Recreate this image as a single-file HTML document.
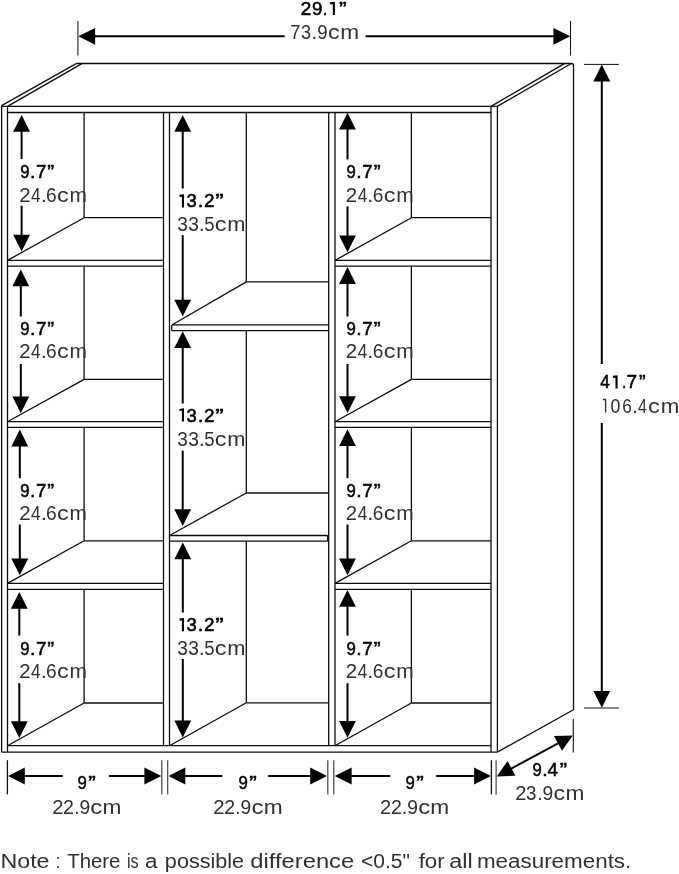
<!DOCTYPE html>
<html><head><meta charset="utf-8"><style>
html,body{margin:0;padding:0;background:#fff;}
svg{display:block;}
text{font-family:"Liberation Sans",sans-serif;fill:#303030;}
text.b{fill:#000;stroke:#000;stroke-width:0.55px;}
svg{will-change:transform;}
</style></head><body>
<svg width="679" height="874" viewBox="0 0 679 874">
<line x1="1.6" y1="105.6" x2="1.6" y2="752.1" stroke="#0d0d0d" stroke-width="1.3" stroke-linecap="butt"/>
<line x1="7.5" y1="106.2" x2="7.5" y2="752.1" stroke="#0d0d0d" stroke-width="1.3" stroke-linecap="butt"/>
<line x1="1.6" y1="106.4" x2="497.4" y2="106.4" stroke="#0d0d0d" stroke-width="1.3" stroke-linecap="butt"/>
<line x1="7.5" y1="112.5" x2="491.0" y2="112.5" stroke="#0d0d0d" stroke-width="1.3" stroke-linecap="butt"/>
<line x1="1.6" y1="752.1" x2="497.4" y2="752.1" stroke="#0d0d0d" stroke-width="1.3" stroke-linecap="butt"/>
<line x1="7.5" y1="745.7" x2="491.0" y2="745.7" stroke="#0d0d0d" stroke-width="1.3" stroke-linecap="butt"/>
<line x1="163.5" y1="112.5" x2="163.5" y2="745.7" stroke="#0d0d0d" stroke-width="1.3" stroke-linecap="butt"/>
<line x1="169.5" y1="112.5" x2="169.5" y2="745.7" stroke="#0d0d0d" stroke-width="1.3" stroke-linecap="butt"/>
<line x1="328.7" y1="112.5" x2="328.7" y2="745.7" stroke="#0d0d0d" stroke-width="1.3" stroke-linecap="butt"/>
<line x1="335.0" y1="112.5" x2="335.0" y2="745.7" stroke="#0d0d0d" stroke-width="1.3" stroke-linecap="butt"/>
<line x1="491.0" y1="106.4" x2="491.0" y2="752.1" stroke="#0d0d0d" stroke-width="1.3" stroke-linecap="butt"/>
<line x1="497.4" y1="106.4" x2="497.4" y2="752.1" stroke="#0d0d0d" stroke-width="1.3" stroke-linecap="butt"/>
<line x1="1.6" y1="105.6" x2="76.2" y2="63.6" stroke="#0d0d0d" stroke-width="1.3" stroke-linecap="butt"/>
<line x1="7.5" y1="106.4" x2="81.5" y2="63.9" stroke="#0d0d0d" stroke-width="1.3" stroke-linecap="butt"/>
<path d="M76.2,63.5 L571.5,63.5 Q573.5,63.5 573.5,65.5 L573.5,709.7" fill="none" stroke="#0d0d0d" stroke-width="1.3" stroke-linejoin="round"/>
<line x1="491.0" y1="106.4" x2="564.3" y2="63.6" stroke="#0d0d0d" stroke-width="1.3" stroke-linecap="butt"/>
<line x1="497.4" y1="106.4" x2="570.9" y2="63.8" stroke="#0d0d0d" stroke-width="1.3" stroke-linecap="butt"/>
<line x1="497.4" y1="752.1" x2="573.5" y2="709.7" stroke="#0d0d0d" stroke-width="1.3" stroke-linecap="butt"/>
<line x1="7.5" y1="260.4" x2="163.5" y2="260.4" stroke="#0d0d0d" stroke-width="1.3" stroke-linecap="butt"/>
<line x1="7.5" y1="266.2" x2="163.5" y2="266.2" stroke="#0d0d0d" stroke-width="1.3" stroke-linecap="butt"/>
<line x1="7.5" y1="421.7" x2="163.5" y2="421.7" stroke="#0d0d0d" stroke-width="1.3" stroke-linecap="butt"/>
<line x1="7.5" y1="427.4" x2="163.5" y2="427.4" stroke="#0d0d0d" stroke-width="1.3" stroke-linecap="butt"/>
<line x1="7.5" y1="583.4" x2="163.5" y2="583.4" stroke="#0d0d0d" stroke-width="1.3" stroke-linecap="butt"/>
<line x1="7.5" y1="589.3" x2="163.5" y2="589.3" stroke="#0d0d0d" stroke-width="1.3" stroke-linecap="butt"/>
<line x1="335.0" y1="260.4" x2="491.0" y2="260.4" stroke="#0d0d0d" stroke-width="1.3" stroke-linecap="butt"/>
<line x1="335.0" y1="266.2" x2="491.0" y2="266.2" stroke="#0d0d0d" stroke-width="1.3" stroke-linecap="butt"/>
<line x1="335.0" y1="421.7" x2="491.0" y2="421.7" stroke="#0d0d0d" stroke-width="1.3" stroke-linecap="butt"/>
<line x1="335.0" y1="427.4" x2="491.0" y2="427.4" stroke="#0d0d0d" stroke-width="1.3" stroke-linecap="butt"/>
<line x1="335.0" y1="583.4" x2="491.0" y2="583.4" stroke="#0d0d0d" stroke-width="1.3" stroke-linecap="butt"/>
<line x1="335.0" y1="589.3" x2="491.0" y2="589.3" stroke="#0d0d0d" stroke-width="1.3" stroke-linecap="butt"/>
<path d="M328.7,324.8 L172.7,324.8 Q171.7,324.8 171.7,325.8 L171.7,329.7 Q171.7,330.7 172.7,330.7 L328.7,330.7" fill="none" stroke="#0d0d0d" stroke-width="1.3" stroke-linejoin="round"/>
<path d="M169.5,535.5 L326.7,535.5 Q327.7,535.5 327.7,536.5 L327.7,540.2 Q327.7,541.2 326.7,541.2 L169.5,541.2" fill="none" stroke="#0d0d0d" stroke-width="1.3" stroke-linejoin="round"/>
<line x1="84.1" y1="112.5" x2="84.1" y2="217.7" stroke="#0d0d0d" stroke-width="1.3" stroke-linecap="butt"/>
<line x1="84.1" y1="217.7" x2="163.5" y2="217.7" stroke="#0d0d0d" stroke-width="1.3" stroke-linecap="butt"/>
<line x1="7.5" y1="260.4" x2="84.1" y2="217.7" stroke="#0d0d0d" stroke-width="1.3" stroke-linecap="butt"/>
<line x1="411.4" y1="112.5" x2="411.4" y2="217.7" stroke="#0d0d0d" stroke-width="1.3" stroke-linecap="butt"/>
<line x1="411.4" y1="217.7" x2="491.0" y2="217.7" stroke="#0d0d0d" stroke-width="1.3" stroke-linecap="butt"/>
<line x1="335.0" y1="260.4" x2="411.4" y2="217.7" stroke="#0d0d0d" stroke-width="1.3" stroke-linecap="butt"/>
<line x1="84.1" y1="266.2" x2="84.1" y2="379.4" stroke="#0d0d0d" stroke-width="1.3" stroke-linecap="butt"/>
<line x1="84.1" y1="379.4" x2="163.5" y2="379.4" stroke="#0d0d0d" stroke-width="1.3" stroke-linecap="butt"/>
<line x1="7.5" y1="421.7" x2="84.1" y2="379.4" stroke="#0d0d0d" stroke-width="1.3" stroke-linecap="butt"/>
<line x1="411.4" y1="266.2" x2="411.4" y2="379.4" stroke="#0d0d0d" stroke-width="1.3" stroke-linecap="butt"/>
<line x1="411.4" y1="379.4" x2="491.0" y2="379.4" stroke="#0d0d0d" stroke-width="1.3" stroke-linecap="butt"/>
<line x1="335.0" y1="421.7" x2="411.4" y2="379.4" stroke="#0d0d0d" stroke-width="1.3" stroke-linecap="butt"/>
<line x1="84.1" y1="427.4" x2="84.1" y2="540.8" stroke="#0d0d0d" stroke-width="1.3" stroke-linecap="butt"/>
<line x1="84.1" y1="540.8" x2="163.5" y2="540.8" stroke="#0d0d0d" stroke-width="1.3" stroke-linecap="butt"/>
<line x1="7.5" y1="583.4" x2="84.1" y2="540.8" stroke="#0d0d0d" stroke-width="1.3" stroke-linecap="butt"/>
<line x1="411.4" y1="427.4" x2="411.4" y2="540.8" stroke="#0d0d0d" stroke-width="1.3" stroke-linecap="butt"/>
<line x1="411.4" y1="540.8" x2="491.0" y2="540.8" stroke="#0d0d0d" stroke-width="1.3" stroke-linecap="butt"/>
<line x1="335.0" y1="583.4" x2="411.4" y2="540.8" stroke="#0d0d0d" stroke-width="1.3" stroke-linecap="butt"/>
<line x1="84.1" y1="589.3" x2="84.1" y2="703.0" stroke="#0d0d0d" stroke-width="1.3" stroke-linecap="butt"/>
<line x1="84.1" y1="703.0" x2="163.5" y2="703.0" stroke="#0d0d0d" stroke-width="1.3" stroke-linecap="butt"/>
<line x1="7.5" y1="745.7" x2="84.1" y2="703.0" stroke="#0d0d0d" stroke-width="1.3" stroke-linecap="butt"/>
<line x1="411.4" y1="589.3" x2="411.4" y2="703.0" stroke="#0d0d0d" stroke-width="1.3" stroke-linecap="butt"/>
<line x1="411.4" y1="703.0" x2="491.0" y2="703.0" stroke="#0d0d0d" stroke-width="1.3" stroke-linecap="butt"/>
<line x1="335.0" y1="745.7" x2="411.4" y2="703.0" stroke="#0d0d0d" stroke-width="1.3" stroke-linecap="butt"/>
<line x1="246.3" y1="112.5" x2="246.3" y2="281.9" stroke="#0d0d0d" stroke-width="1.3" stroke-linecap="butt"/>
<line x1="246.3" y1="281.9" x2="328.7" y2="281.9" stroke="#0d0d0d" stroke-width="1.3" stroke-linecap="butt"/>
<line x1="172.2" y1="324.8" x2="246.3" y2="281.9" stroke="#0d0d0d" stroke-width="1.3" stroke-linecap="butt"/>
<line x1="246.3" y1="330.7" x2="246.3" y2="493.0" stroke="#0d0d0d" stroke-width="1.3" stroke-linecap="butt"/>
<line x1="246.3" y1="493.0" x2="328.7" y2="493.0" stroke="#0d0d0d" stroke-width="1.3" stroke-linecap="butt"/>
<line x1="169.5" y1="535.5" x2="246.3" y2="493.0" stroke="#0d0d0d" stroke-width="1.3" stroke-linecap="butt"/>
<line x1="246.3" y1="541.2" x2="246.3" y2="702.8" stroke="#0d0d0d" stroke-width="1.3" stroke-linecap="butt"/>
<line x1="246.3" y1="702.8" x2="328.7" y2="702.8" stroke="#0d0d0d" stroke-width="1.3" stroke-linecap="butt"/>
<line x1="169.5" y1="745.7" x2="246.3" y2="702.8" stroke="#0d0d0d" stroke-width="1.3" stroke-linecap="butt"/>
<line x1="77.9" y1="21" x2="77.9" y2="55.5" stroke="#333" stroke-width="1.2" stroke-linecap="butt"/>
<line x1="570.5" y1="21" x2="570.5" y2="55.5" stroke="#111" stroke-width="1.0" stroke-linecap="butt"/>
<line x1="90" y1="36.3" x2="284.7" y2="36.3" stroke="#000" stroke-width="2.0" stroke-linecap="butt"/>
<line x1="365.7" y1="36.3" x2="558" y2="36.3" stroke="#000" stroke-width="2.0" stroke-linecap="butt"/>
<polygon points="78.30,36.30 95.10,27.90 95.10,44.70" fill="#000"/>
<polygon points="570.20,36.30 553.40,44.70 553.40,27.90" fill="#000"/>
<line x1="584.1" y1="64.4" x2="618.8" y2="64.4" stroke="#111" stroke-width="1.0" stroke-linecap="butt"/>
<line x1="584.1" y1="708" x2="618.8" y2="708" stroke="#111" stroke-width="1.0" stroke-linecap="butt"/>
<line x1="601.8" y1="76" x2="601.8" y2="364" stroke="#000" stroke-width="2.0" stroke-linecap="butt"/>
<line x1="601.8" y1="423" x2="601.8" y2="696" stroke="#000" stroke-width="2.0" stroke-linecap="butt"/>
<polygon points="601.80,64.60 610.20,81.40 593.40,81.40" fill="#000"/>
<polygon points="601.80,707.80 593.40,691.00 610.20,691.00" fill="#000"/>
<line x1="161.8" y1="760.2" x2="161.8" y2="794.4" stroke="#444" stroke-width="1.2" stroke-linecap="butt"/>
<line x1="167.7" y1="760.2" x2="167.7" y2="794.4" stroke="#444" stroke-width="1.2" stroke-linecap="butt"/>
<line x1="327.8" y1="760.2" x2="327.8" y2="794.4" stroke="#444" stroke-width="1.2" stroke-linecap="butt"/>
<line x1="333.8" y1="760.2" x2="333.8" y2="794.4" stroke="#444" stroke-width="1.2" stroke-linecap="butt"/>
<line x1="496.1" y1="760.2" x2="496.1" y2="794.4" stroke="#444" stroke-width="1.2" stroke-linecap="butt"/>
<line x1="7.4" y1="760.2" x2="7.4" y2="794.4" stroke="#111" stroke-width="1.3" stroke-linecap="butt"/>
<line x1="491.4" y1="760.2" x2="491.4" y2="794.4" stroke="#111" stroke-width="1.3" stroke-linecap="butt"/>
<line x1="20.0" y1="776.0" x2="62.6" y2="776.0" stroke="#000" stroke-width="2.0" stroke-linecap="butt"/>
<line x1="108.9" y1="776.0" x2="149.2" y2="776.0" stroke="#000" stroke-width="2.0" stroke-linecap="butt"/>
<polygon points="8.00,776.00 24.80,767.60 24.80,784.40" fill="#000"/>
<polygon points="161.20,776.00 144.40,784.40 144.40,767.60" fill="#000"/>
<line x1="180.5" y1="776.0" x2="222.4" y2="776.0" stroke="#000" stroke-width="2.0" stroke-linecap="butt"/>
<line x1="268.2" y1="776.0" x2="315.0" y2="776.0" stroke="#000" stroke-width="2.0" stroke-linecap="butt"/>
<polygon points="168.50,776.00 185.30,767.60 185.30,784.40" fill="#000"/>
<polygon points="327.00,776.00 310.20,784.40 310.20,767.60" fill="#000"/>
<line x1="346.8" y1="776.0" x2="390.3" y2="776.0" stroke="#000" stroke-width="2.0" stroke-linecap="butt"/>
<line x1="436.2" y1="776.0" x2="478.9" y2="776.0" stroke="#000" stroke-width="2.0" stroke-linecap="butt"/>
<polygon points="334.80,776.00 351.60,767.60 351.60,784.40" fill="#000"/>
<polygon points="490.90,776.00 474.10,784.40 474.10,767.60" fill="#000"/>
<line x1="573.3" y1="718.7" x2="573.3" y2="752.6" stroke="#111" stroke-width="1.1" stroke-linecap="butt"/>
<line x1="507.2643156359216" y1="770.7083187769673" x2="562.2356843640783" y2="741.0916812230327" stroke="#000" stroke-width="2.0" stroke-linecap="butt"/>
<polygon points="572.80,735.40 561.99,750.76 554.03,735.97" fill="#000"/>
<polygon points="496.70,776.40 507.51,761.04 515.47,775.83" fill="#000"/>
<line x1="21.6" y1="127.0" x2="21.6" y2="158.9" stroke="#000" stroke-width="2.0" stroke-linecap="butt"/>
<line x1="21.6" y1="205.7" x2="21.6" y2="239.5" stroke="#000" stroke-width="2.0" stroke-linecap="butt"/>
<polygon points="21.60,115.00 30.00,131.80 13.20,131.80" fill="#000"/>
<polygon points="21.60,251.50 13.20,234.70 30.00,234.70" fill="#000"/>
<line x1="20.8" y1="281.5" x2="20.8" y2="316.5" stroke="#000" stroke-width="2.0" stroke-linecap="butt"/>
<line x1="20.8" y1="364.0" x2="20.8" y2="401.2" stroke="#000" stroke-width="2.0" stroke-linecap="butt"/>
<polygon points="20.80,269.50 29.20,286.30 12.40,286.30" fill="#000"/>
<polygon points="20.80,413.20 12.40,396.40 29.20,396.40" fill="#000"/>
<line x1="19.8" y1="441.6" x2="19.8" y2="478.2" stroke="#000" stroke-width="2.0" stroke-linecap="butt"/>
<line x1="19.8" y1="524.5" x2="19.8" y2="563.3" stroke="#000" stroke-width="2.0" stroke-linecap="butt"/>
<polygon points="19.80,429.60 28.20,446.40 11.40,446.40" fill="#000"/>
<polygon points="19.80,575.30 11.40,558.50 28.20,558.50" fill="#000"/>
<line x1="19.3" y1="603.9" x2="19.3" y2="635.6" stroke="#000" stroke-width="2.0" stroke-linecap="butt"/>
<line x1="19.3" y1="683.2" x2="19.3" y2="726.0" stroke="#000" stroke-width="2.0" stroke-linecap="butt"/>
<polygon points="19.30,591.90 27.70,608.70 10.90,608.70" fill="#000"/>
<polygon points="19.30,738.00 10.90,721.20 27.70,721.20" fill="#000"/>
<line x1="182.7" y1="126.9" x2="182.7" y2="188.5" stroke="#000" stroke-width="2.0" stroke-linecap="butt"/>
<line x1="182.7" y1="235.1" x2="182.7" y2="304.6" stroke="#000" stroke-width="2.0" stroke-linecap="butt"/>
<polygon points="182.70,114.90 191.10,131.70 174.30,131.70" fill="#000"/>
<polygon points="182.70,316.60 174.30,299.80 191.10,299.80" fill="#000"/>
<line x1="182.7" y1="343.2" x2="182.7" y2="403.5" stroke="#000" stroke-width="2.0" stroke-linecap="butt"/>
<line x1="182.7" y1="450.7" x2="182.7" y2="514.0" stroke="#000" stroke-width="2.0" stroke-linecap="butt"/>
<polygon points="182.70,331.20 191.10,348.00 174.30,348.00" fill="#000"/>
<polygon points="182.70,526.00 174.30,509.20 191.10,509.20" fill="#000"/>
<line x1="182.8" y1="554.4" x2="182.8" y2="612.5" stroke="#000" stroke-width="2.0" stroke-linecap="butt"/>
<line x1="182.8" y1="659.0" x2="182.8" y2="725.4" stroke="#000" stroke-width="2.0" stroke-linecap="butt"/>
<polygon points="182.80,542.40 191.20,559.20 174.40,559.20" fill="#000"/>
<polygon points="182.80,737.40 174.40,720.60 191.20,720.60" fill="#000"/>
<line x1="347.5" y1="124.8" x2="347.5" y2="159.5" stroke="#000" stroke-width="2.0" stroke-linecap="butt"/>
<line x1="347.5" y1="206.4" x2="347.5" y2="240.2" stroke="#000" stroke-width="2.0" stroke-linecap="butt"/>
<polygon points="347.50,112.80 355.90,129.60 339.10,129.60" fill="#000"/>
<polygon points="347.50,252.20 339.10,235.40 355.90,235.40" fill="#000"/>
<line x1="347.5" y1="279.1" x2="347.5" y2="316.5" stroke="#000" stroke-width="2.0" stroke-linecap="butt"/>
<line x1="347.5" y1="364.0" x2="347.5" y2="401.0" stroke="#000" stroke-width="2.0" stroke-linecap="butt"/>
<polygon points="347.50,267.10 355.90,283.90 339.10,283.90" fill="#000"/>
<polygon points="347.50,413.00 339.10,396.20 355.90,396.20" fill="#000"/>
<line x1="347.5" y1="441.2" x2="347.5" y2="478.2" stroke="#000" stroke-width="2.0" stroke-linecap="butt"/>
<line x1="347.5" y1="524.5" x2="347.5" y2="563.3" stroke="#000" stroke-width="2.0" stroke-linecap="butt"/>
<polygon points="347.50,429.20 355.90,446.00 339.10,446.00" fill="#000"/>
<polygon points="347.50,575.30 339.10,558.50 355.90,558.50" fill="#000"/>
<line x1="347.5" y1="601.9" x2="347.5" y2="635.6" stroke="#000" stroke-width="2.0" stroke-linecap="butt"/>
<line x1="347.5" y1="683.2" x2="347.5" y2="725.7" stroke="#000" stroke-width="2.0" stroke-linecap="butt"/>
<polygon points="347.50,589.90 355.90,606.70 339.10,606.70" fill="#000"/>
<polygon points="347.50,737.70 339.10,720.90 355.90,720.90" fill="#000"/>
<text class="b" x="300.50" y="14.95" font-size="19" textLength="10.80" lengthAdjust="spacingAndGlyphs">2</text><text class="b" x="311.90" y="14.95" font-size="19" textLength="10.41" lengthAdjust="spacingAndGlyphs">9</text><text class="b" x="322.88" y="14.95" font-size="19" textLength="4.23" lengthAdjust="spacingAndGlyphs">.</text><path d="M330.10,3.40 L333.85,2.95 L333.85,14.95" fill="none" stroke="#000" stroke-width="2.1" stroke-linejoin="miter"/><text class="b" x="339.14" y="14.95" font-size="19" textLength="7.63" lengthAdjust="spacingAndGlyphs">”</text>
<text x="290.26" y="38.90" font-size="20" textLength="10.15" lengthAdjust="spacingAndGlyphs">7</text><text x="301.11" y="38.90" font-size="20" textLength="10.09" lengthAdjust="spacingAndGlyphs">3</text><text x="311.29" y="38.90" font-size="20" textLength="6.13" lengthAdjust="spacingAndGlyphs">.</text><text x="317.13" y="38.90" font-size="20" textLength="10.35" lengthAdjust="spacingAndGlyphs">9</text><text x="328.11" y="38.90" font-size="20" textLength="11.60" lengthAdjust="spacingAndGlyphs">c</text><text x="340.19" y="38.90" font-size="20" textLength="18.90" lengthAdjust="spacingAndGlyphs">m</text>
<text class="b" x="600.28" y="388.45" font-size="19" textLength="9.55" lengthAdjust="spacingAndGlyphs">4</text><path d="M612.90,376.90 L616.55,376.45 L616.55,388.45" fill="none" stroke="#000" stroke-width="2.1" stroke-linejoin="miter"/><text class="b" x="621.88" y="388.45" font-size="19" textLength="4.23" lengthAdjust="spacingAndGlyphs">.</text><text class="b" x="626.50" y="388.45" font-size="19" textLength="10.58" lengthAdjust="spacingAndGlyphs">7</text><text class="b" x="639.05" y="388.45" font-size="19" textLength="6.60" lengthAdjust="spacingAndGlyphs">”</text>
<path d="M602.90,399.48 L605.62,399.48 L605.62,412.60" fill="none" stroke="#303030" stroke-width="1.35" stroke-linejoin="miter"/><text x="610.51" y="412.60" font-size="20" textLength="9.89" lengthAdjust="spacingAndGlyphs">0</text><text x="622.13" y="412.60" font-size="20" textLength="9.52" lengthAdjust="spacingAndGlyphs">6</text><text x="632.18" y="412.60" font-size="20" textLength="5.54" lengthAdjust="spacingAndGlyphs">.</text><text x="637.93" y="412.60" font-size="20" textLength="8.94" lengthAdjust="spacingAndGlyphs">4</text><text x="648.00" y="412.60" font-size="20" textLength="11.83" lengthAdjust="spacingAndGlyphs">c</text><text x="660.72" y="412.60" font-size="20" textLength="18.55" lengthAdjust="spacingAndGlyphs">m</text>
<text class="b" x="532.50" y="775.65" font-size="19" textLength="9.21" lengthAdjust="spacingAndGlyphs">9</text><text class="b" x="542.30" y="775.65" font-size="19" textLength="5.40" lengthAdjust="spacingAndGlyphs">.</text><text class="b" x="547.54" y="775.65" font-size="19" textLength="10.43" lengthAdjust="spacingAndGlyphs">4</text><text class="b" x="559.78" y="775.65" font-size="19" textLength="7.24" lengthAdjust="spacingAndGlyphs">”</text>
<text x="515.18" y="799.80" font-size="20" textLength="11.23" lengthAdjust="spacingAndGlyphs">2</text><text x="526.09" y="799.80" font-size="20" textLength="10.44" lengthAdjust="spacingAndGlyphs">3</text><text x="537.17" y="799.80" font-size="20" textLength="5.25" lengthAdjust="spacingAndGlyphs">.</text><text x="542.40" y="799.80" font-size="20" textLength="10.72" lengthAdjust="spacingAndGlyphs">9</text><text x="553.41" y="799.80" font-size="20" textLength="11.60" lengthAdjust="spacingAndGlyphs">c</text><text x="565.49" y="799.80" font-size="20" textLength="18.90" lengthAdjust="spacingAndGlyphs">m</text>
<text class="b" x="77.49" y="789.45" font-size="19" textLength="9.33" lengthAdjust="spacingAndGlyphs">9</text><text class="b" x="88.35" y="789.45" font-size="19" textLength="7.50" lengthAdjust="spacingAndGlyphs">”</text>
<text class="b" x="238.49" y="789.45" font-size="19" textLength="9.33" lengthAdjust="spacingAndGlyphs">9</text><text class="b" x="249.35" y="789.45" font-size="19" textLength="7.50" lengthAdjust="spacingAndGlyphs">”</text>
<text class="b" x="405.39" y="789.45" font-size="19" textLength="9.33" lengthAdjust="spacingAndGlyphs">9</text><text class="b" x="416.25" y="789.45" font-size="19" textLength="7.50" lengthAdjust="spacingAndGlyphs">”</text>
<text x="52.18" y="813.60" font-size="20" textLength="11.23" lengthAdjust="spacingAndGlyphs">2</text><text x="63.12" y="813.60" font-size="20" textLength="10.87" lengthAdjust="spacingAndGlyphs">2</text><text x="74.17" y="813.60" font-size="20" textLength="5.25" lengthAdjust="spacingAndGlyphs">.</text><text x="79.40" y="813.60" font-size="20" textLength="10.72" lengthAdjust="spacingAndGlyphs">9</text><text x="90.39" y="813.60" font-size="20" textLength="11.94" lengthAdjust="spacingAndGlyphs">c</text><text x="102.49" y="813.60" font-size="20" textLength="18.90" lengthAdjust="spacingAndGlyphs">m</text>
<text x="213.38" y="813.60" font-size="20" textLength="11.23" lengthAdjust="spacingAndGlyphs">2</text><text x="224.32" y="813.60" font-size="20" textLength="10.87" lengthAdjust="spacingAndGlyphs">2</text><text x="235.37" y="813.60" font-size="20" textLength="5.25" lengthAdjust="spacingAndGlyphs">.</text><text x="240.60" y="813.60" font-size="20" textLength="10.72" lengthAdjust="spacingAndGlyphs">9</text><text x="251.59" y="813.60" font-size="20" textLength="11.94" lengthAdjust="spacingAndGlyphs">c</text><text x="263.69" y="813.60" font-size="20" textLength="18.90" lengthAdjust="spacingAndGlyphs">m</text>
<text x="380.08" y="813.60" font-size="20" textLength="11.23" lengthAdjust="spacingAndGlyphs">2</text><text x="391.02" y="813.60" font-size="20" textLength="10.87" lengthAdjust="spacingAndGlyphs">2</text><text x="402.07" y="813.60" font-size="20" textLength="5.25" lengthAdjust="spacingAndGlyphs">.</text><text x="407.30" y="813.60" font-size="20" textLength="10.72" lengthAdjust="spacingAndGlyphs">9</text><text x="418.29" y="813.60" font-size="20" textLength="11.94" lengthAdjust="spacingAndGlyphs">c</text><text x="430.39" y="813.60" font-size="20" textLength="18.90" lengthAdjust="spacingAndGlyphs">m</text>
<text class="b" x="20.14" y="178.45" font-size="19" textLength="9.27" lengthAdjust="spacingAndGlyphs">9</text><text class="b" x="29.90" y="178.45" font-size="19" textLength="5.40" lengthAdjust="spacingAndGlyphs">.</text><text class="b" x="35.91" y="178.45" font-size="19" textLength="10.46" lengthAdjust="spacingAndGlyphs">7</text><text class="b" x="47.22" y="178.45" font-size="19" textLength="6.86" lengthAdjust="spacingAndGlyphs">”</text>
<text x="19.17" y="202.00" font-size="20" textLength="11.35" lengthAdjust="spacingAndGlyphs">2</text><text x="31.00" y="202.00" font-size="20" textLength="9.60" lengthAdjust="spacingAndGlyphs">4</text><text x="40.69" y="202.00" font-size="20" textLength="6.13" lengthAdjust="spacingAndGlyphs">.</text><text x="45.93" y="202.00" font-size="20" textLength="10.61" lengthAdjust="spacingAndGlyphs">6</text><text x="57.10" y="202.00" font-size="20" textLength="11.71" lengthAdjust="spacingAndGlyphs">c</text><text x="69.61" y="202.00" font-size="20" textLength="17.48" lengthAdjust="spacingAndGlyphs">m</text>
<text class="b" x="346.59" y="178.45" font-size="19" textLength="9.27" lengthAdjust="spacingAndGlyphs">9</text><text class="b" x="356.35" y="178.45" font-size="19" textLength="5.40" lengthAdjust="spacingAndGlyphs">.</text><text class="b" x="362.36" y="178.45" font-size="19" textLength="10.46" lengthAdjust="spacingAndGlyphs">7</text><text class="b" x="373.67" y="178.45" font-size="19" textLength="6.86" lengthAdjust="spacingAndGlyphs">”</text>
<text x="345.87" y="202.00" font-size="20" textLength="11.35" lengthAdjust="spacingAndGlyphs">2</text><text x="357.70" y="202.00" font-size="20" textLength="9.60" lengthAdjust="spacingAndGlyphs">4</text><text x="367.39" y="202.00" font-size="20" textLength="6.13" lengthAdjust="spacingAndGlyphs">.</text><text x="372.63" y="202.00" font-size="20" textLength="10.61" lengthAdjust="spacingAndGlyphs">6</text><text x="383.80" y="202.00" font-size="20" textLength="11.71" lengthAdjust="spacingAndGlyphs">c</text><text x="396.31" y="202.00" font-size="20" textLength="17.48" lengthAdjust="spacingAndGlyphs">m</text>
<text class="b" x="20.14" y="334.65" font-size="19" textLength="9.27" lengthAdjust="spacingAndGlyphs">9</text><text class="b" x="29.90" y="334.65" font-size="19" textLength="5.40" lengthAdjust="spacingAndGlyphs">.</text><text class="b" x="35.91" y="334.65" font-size="19" textLength="10.46" lengthAdjust="spacingAndGlyphs">7</text><text class="b" x="47.22" y="334.65" font-size="19" textLength="6.86" lengthAdjust="spacingAndGlyphs">”</text>
<text x="19.17" y="358.20" font-size="20" textLength="11.35" lengthAdjust="spacingAndGlyphs">2</text><text x="31.00" y="358.20" font-size="20" textLength="9.60" lengthAdjust="spacingAndGlyphs">4</text><text x="40.69" y="358.20" font-size="20" textLength="6.13" lengthAdjust="spacingAndGlyphs">.</text><text x="45.93" y="358.20" font-size="20" textLength="10.61" lengthAdjust="spacingAndGlyphs">6</text><text x="57.10" y="358.20" font-size="20" textLength="11.71" lengthAdjust="spacingAndGlyphs">c</text><text x="69.61" y="358.20" font-size="20" textLength="17.48" lengthAdjust="spacingAndGlyphs">m</text>
<text class="b" x="346.59" y="334.65" font-size="19" textLength="9.27" lengthAdjust="spacingAndGlyphs">9</text><text class="b" x="356.35" y="334.65" font-size="19" textLength="5.40" lengthAdjust="spacingAndGlyphs">.</text><text class="b" x="362.36" y="334.65" font-size="19" textLength="10.46" lengthAdjust="spacingAndGlyphs">7</text><text class="b" x="373.67" y="334.65" font-size="19" textLength="6.86" lengthAdjust="spacingAndGlyphs">”</text>
<text x="345.87" y="358.20" font-size="20" textLength="11.35" lengthAdjust="spacingAndGlyphs">2</text><text x="357.70" y="358.20" font-size="20" textLength="9.60" lengthAdjust="spacingAndGlyphs">4</text><text x="367.39" y="358.20" font-size="20" textLength="6.13" lengthAdjust="spacingAndGlyphs">.</text><text x="372.63" y="358.20" font-size="20" textLength="10.61" lengthAdjust="spacingAndGlyphs">6</text><text x="383.80" y="358.20" font-size="20" textLength="11.71" lengthAdjust="spacingAndGlyphs">c</text><text x="396.31" y="358.20" font-size="20" textLength="17.48" lengthAdjust="spacingAndGlyphs">m</text>
<text class="b" x="20.14" y="496.55" font-size="19" textLength="9.27" lengthAdjust="spacingAndGlyphs">9</text><text class="b" x="29.90" y="496.55" font-size="19" textLength="5.40" lengthAdjust="spacingAndGlyphs">.</text><text class="b" x="35.91" y="496.55" font-size="19" textLength="10.46" lengthAdjust="spacingAndGlyphs">7</text><text class="b" x="47.22" y="496.55" font-size="19" textLength="6.86" lengthAdjust="spacingAndGlyphs">”</text>
<text x="19.17" y="520.10" font-size="20" textLength="11.35" lengthAdjust="spacingAndGlyphs">2</text><text x="31.00" y="520.10" font-size="20" textLength="9.60" lengthAdjust="spacingAndGlyphs">4</text><text x="40.69" y="520.10" font-size="20" textLength="6.13" lengthAdjust="spacingAndGlyphs">.</text><text x="45.93" y="520.10" font-size="20" textLength="10.61" lengthAdjust="spacingAndGlyphs">6</text><text x="57.10" y="520.10" font-size="20" textLength="11.71" lengthAdjust="spacingAndGlyphs">c</text><text x="69.61" y="520.10" font-size="20" textLength="17.48" lengthAdjust="spacingAndGlyphs">m</text>
<text class="b" x="346.59" y="496.55" font-size="19" textLength="9.27" lengthAdjust="spacingAndGlyphs">9</text><text class="b" x="356.35" y="496.55" font-size="19" textLength="5.40" lengthAdjust="spacingAndGlyphs">.</text><text class="b" x="362.36" y="496.55" font-size="19" textLength="10.46" lengthAdjust="spacingAndGlyphs">7</text><text class="b" x="373.67" y="496.55" font-size="19" textLength="6.86" lengthAdjust="spacingAndGlyphs">”</text>
<text x="345.87" y="520.10" font-size="20" textLength="11.35" lengthAdjust="spacingAndGlyphs">2</text><text x="357.70" y="520.10" font-size="20" textLength="9.60" lengthAdjust="spacingAndGlyphs">4</text><text x="367.39" y="520.10" font-size="20" textLength="6.13" lengthAdjust="spacingAndGlyphs">.</text><text x="372.63" y="520.10" font-size="20" textLength="10.61" lengthAdjust="spacingAndGlyphs">6</text><text x="383.80" y="520.10" font-size="20" textLength="11.71" lengthAdjust="spacingAndGlyphs">c</text><text x="396.31" y="520.10" font-size="20" textLength="17.48" lengthAdjust="spacingAndGlyphs">m</text>
<text class="b" x="20.14" y="654.65" font-size="19" textLength="9.27" lengthAdjust="spacingAndGlyphs">9</text><text class="b" x="29.90" y="654.65" font-size="19" textLength="5.40" lengthAdjust="spacingAndGlyphs">.</text><text class="b" x="35.91" y="654.65" font-size="19" textLength="10.46" lengthAdjust="spacingAndGlyphs">7</text><text class="b" x="47.22" y="654.65" font-size="19" textLength="6.86" lengthAdjust="spacingAndGlyphs">”</text>
<text x="19.17" y="678.20" font-size="20" textLength="11.35" lengthAdjust="spacingAndGlyphs">2</text><text x="31.00" y="678.20" font-size="20" textLength="9.60" lengthAdjust="spacingAndGlyphs">4</text><text x="40.69" y="678.20" font-size="20" textLength="6.13" lengthAdjust="spacingAndGlyphs">.</text><text x="45.93" y="678.20" font-size="20" textLength="10.61" lengthAdjust="spacingAndGlyphs">6</text><text x="57.10" y="678.20" font-size="20" textLength="11.71" lengthAdjust="spacingAndGlyphs">c</text><text x="69.61" y="678.20" font-size="20" textLength="17.48" lengthAdjust="spacingAndGlyphs">m</text>
<text class="b" x="346.59" y="654.65" font-size="19" textLength="9.27" lengthAdjust="spacingAndGlyphs">9</text><text class="b" x="356.35" y="654.65" font-size="19" textLength="5.40" lengthAdjust="spacingAndGlyphs">.</text><text class="b" x="362.36" y="654.65" font-size="19" textLength="10.46" lengthAdjust="spacingAndGlyphs">7</text><text class="b" x="373.67" y="654.65" font-size="19" textLength="6.86" lengthAdjust="spacingAndGlyphs">”</text>
<text x="345.87" y="678.20" font-size="20" textLength="11.35" lengthAdjust="spacingAndGlyphs">2</text><text x="357.70" y="678.20" font-size="20" textLength="9.60" lengthAdjust="spacingAndGlyphs">4</text><text x="367.39" y="678.20" font-size="20" textLength="6.13" lengthAdjust="spacingAndGlyphs">.</text><text x="372.63" y="678.20" font-size="20" textLength="10.61" lengthAdjust="spacingAndGlyphs">6</text><text x="383.80" y="678.20" font-size="20" textLength="11.71" lengthAdjust="spacingAndGlyphs">c</text><text x="396.31" y="678.20" font-size="20" textLength="17.48" lengthAdjust="spacingAndGlyphs">m</text>
<path d="M179.50,195.90 L182.95,195.45 L182.95,207.45" fill="none" stroke="#000" stroke-width="2.1" stroke-linejoin="miter"/><text class="b" x="186.57" y="207.45" font-size="19" textLength="10.26" lengthAdjust="spacingAndGlyphs">3</text><text class="b" x="197.81" y="207.45" font-size="19" textLength="5.69" lengthAdjust="spacingAndGlyphs">.</text><text class="b" x="204.02" y="207.45" font-size="19" textLength="10.56" lengthAdjust="spacingAndGlyphs">2</text><text class="b" x="215.17" y="207.45" font-size="19" textLength="8.27" lengthAdjust="spacingAndGlyphs">”</text>
<text x="177.18" y="231.30" font-size="20" textLength="10.56" lengthAdjust="spacingAndGlyphs">3</text><text x="188.17" y="231.30" font-size="20" textLength="10.67" lengthAdjust="spacingAndGlyphs">3</text><text x="198.69" y="231.30" font-size="20" textLength="6.13" lengthAdjust="spacingAndGlyphs">.</text><text x="204.36" y="231.30" font-size="20" textLength="10.32" lengthAdjust="spacingAndGlyphs">5</text><text x="214.80" y="231.30" font-size="20" textLength="11.71" lengthAdjust="spacingAndGlyphs">c</text><text x="227.35" y="231.30" font-size="20" textLength="18.19" lengthAdjust="spacingAndGlyphs">m</text>
<path d="M179.50,410.00 L182.95,409.55 L182.95,421.55" fill="none" stroke="#000" stroke-width="2.1" stroke-linejoin="miter"/><text class="b" x="186.57" y="421.55" font-size="19" textLength="10.26" lengthAdjust="spacingAndGlyphs">3</text><text class="b" x="197.81" y="421.55" font-size="19" textLength="5.69" lengthAdjust="spacingAndGlyphs">.</text><text class="b" x="204.02" y="421.55" font-size="19" textLength="10.56" lengthAdjust="spacingAndGlyphs">2</text><text class="b" x="215.17" y="421.55" font-size="19" textLength="8.27" lengthAdjust="spacingAndGlyphs">”</text>
<text x="177.18" y="445.70" font-size="20" textLength="10.56" lengthAdjust="spacingAndGlyphs">3</text><text x="188.17" y="445.70" font-size="20" textLength="10.67" lengthAdjust="spacingAndGlyphs">3</text><text x="198.69" y="445.70" font-size="20" textLength="6.13" lengthAdjust="spacingAndGlyphs">.</text><text x="204.36" y="445.70" font-size="20" textLength="10.32" lengthAdjust="spacingAndGlyphs">5</text><text x="214.80" y="445.70" font-size="20" textLength="11.71" lengthAdjust="spacingAndGlyphs">c</text><text x="227.35" y="445.70" font-size="20" textLength="18.19" lengthAdjust="spacingAndGlyphs">m</text>
<path d="M179.50,619.60 L182.95,619.15 L182.95,631.15" fill="none" stroke="#000" stroke-width="2.1" stroke-linejoin="miter"/><text class="b" x="186.57" y="631.15" font-size="19" textLength="10.26" lengthAdjust="spacingAndGlyphs">3</text><text class="b" x="197.81" y="631.15" font-size="19" textLength="5.69" lengthAdjust="spacingAndGlyphs">.</text><text class="b" x="204.02" y="631.15" font-size="19" textLength="10.56" lengthAdjust="spacingAndGlyphs">2</text><text class="b" x="215.17" y="631.15" font-size="19" textLength="8.27" lengthAdjust="spacingAndGlyphs">”</text>
<text x="177.18" y="655.10" font-size="20" textLength="10.56" lengthAdjust="spacingAndGlyphs">3</text><text x="188.17" y="655.10" font-size="20" textLength="10.67" lengthAdjust="spacingAndGlyphs">3</text><text x="198.69" y="655.10" font-size="20" textLength="6.13" lengthAdjust="spacingAndGlyphs">.</text><text x="204.36" y="655.10" font-size="20" textLength="10.32" lengthAdjust="spacingAndGlyphs">5</text><text x="214.80" y="655.10" font-size="20" textLength="11.71" lengthAdjust="spacingAndGlyphs">c</text><text x="227.35" y="655.10" font-size="20" textLength="18.19" lengthAdjust="spacingAndGlyphs">m</text>
<text x="0.41" y="868.30" font-size="20" textLength="49.12" lengthAdjust="spacingAndGlyphs">Note</text>
<text x="55.64" y="868.30" font-size="20" textLength="4.57" lengthAdjust="spacingAndGlyphs">:</text>
<text x="67.23" y="868.30" font-size="20" textLength="53.11" lengthAdjust="spacingAndGlyphs">There</text>
<text x="127.00" y="868.30" font-size="20" textLength="11.65" lengthAdjust="spacingAndGlyphs">is</text>
<text x="145.05" y="868.30" font-size="20" textLength="12.43" lengthAdjust="spacingAndGlyphs">a</text>
<text x="164.89" y="868.30" font-size="20" textLength="79.19" lengthAdjust="spacingAndGlyphs">possible</text>
<text x="250.30" y="868.30" font-size="20" textLength="103.93" lengthAdjust="spacingAndGlyphs">difference</text>
<text x="361.00" y="868.30" font-size="20" textLength="48.98" lengthAdjust="spacingAndGlyphs">&lt;0.5&quot;</text>
<text x="418.68" y="868.30" font-size="20" textLength="25.95" lengthAdjust="spacingAndGlyphs">for</text>
<text x="449.30" y="868.30" font-size="20" textLength="23.46" lengthAdjust="spacingAndGlyphs">all</text>
<text x="476.90" y="868.30" font-size="20" textLength="154.42" lengthAdjust="spacingAndGlyphs">measurements.</text>
</svg>
</body></html>
